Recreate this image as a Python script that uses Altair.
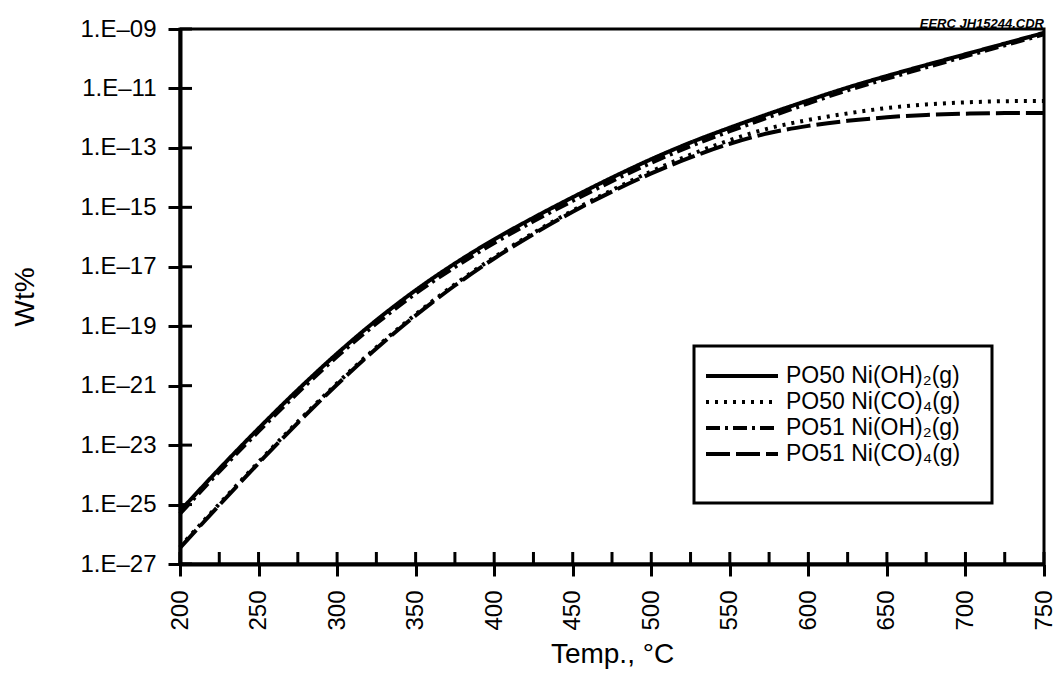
import altair as alt
import pandas as pd

# ---- data (exponents of 10) ----
temps = [200, 225, 250, 275, 300, 325, 350, 375, 400, 425, 450, 475,
         500, 525, 550, 575, 600, 625, 650, 675, 700, 725, 750]

series_names = ["PO50 Ni(OH)₂(g)", "PO50 Ni(CO)₄(g)",
                "PO51 Ni(OH)₂(g)", "PO51 Ni(CO)₄(g)"]

po50_oh_exp = [-25.22, -23.80, -22.44, -21.14, -19.92, -18.80, -17.79, -16.89,
               -16.08, -15.35, -14.66, -14.00, -13.38, -12.82, -12.32, -11.85,
               -11.40, -10.97, -10.58, -10.21, -9.85, -9.49, -9.13]
po50_co_exp = [-26.42, -24.98, -23.57, -22.21, -20.92, -19.71, -18.60, -17.59,
               -16.68, -15.86, -15.11, -14.42, -13.79, -13.23, -12.74, -12.34,
               -12.06, -11.84, -11.66, -11.54, -11.47, -11.43, -11.42]
po51_oh_exp = [-25.31, -23.89, -22.54, -21.24, -20.02, -18.91, -17.90, -17.01,
               -16.20, -15.47, -14.78, -14.12, -13.50, -12.94, -12.44, -11.96,
               -11.50, -11.06, -10.67, -10.29, -9.92, -9.55, -9.18]
po51_co_exp = [-26.46, -25.02, -23.61, -22.25, -20.96, -19.75, -18.64, -17.63,
               -16.72, -15.90, -15.15, -14.47, -13.86, -13.32, -12.86, -12.50,
               -12.26, -12.09, -11.97, -11.89, -11.85, -11.83, -11.83]

x_tick_values = [200, 225, 250, 275, 300, 325, 350, 375, 400, 425, 450, 475,
                 500, 525, 550, 575, 600, 625, 650, 675, 700, 725, 750]
y_tick_exps = [-27, -25, -23, -21, -19, -17, -15, -13, -11, -9]

dash_styles = [[1, 0], [3, 6], [14, 5, 3, 5], [24, 6]]

# ---- tables ----
rows = []
for name, arr in zip(series_names, [po50_oh_exp, po50_co_exp, po51_oh_exp, po51_co_exp]):
    for t, e in zip(temps, arr):
        rows.append({"temp": t, "wt": 10.0 ** e, "series": name})
df = pd.DataFrame(rows)

xt_df = pd.DataFrame({"temp": x_tick_values})
yt_df = pd.DataFrame({"wt": [10.0 ** e for e in y_tick_exps]})
legend_df = pd.DataFrame({"series": series_names})
box_df = pd.DataFrame({"k": [0]})

W, H = 864, 535
FONT = "Liberation Sans"

x_scale = alt.Scale(domain=[200, 750], nice=False, zero=False)
y_scale = alt.Scale(type="log", domain=[1e-27, 1e-9], nice=False)
dash_scale = alt.Scale(domain=series_names, range=dash_styles)
legend_y = alt.Scale(type="point", domain=series_names, range=[347, 425], padding=0)

x_axis = alt.Axis(
    values=x_tick_values,
    labelExpr="datum.value % 50 == 0 ? datum.label : ''",
    labelAngle=270,
    labelPadding=14,
    title="Temp., °C",
    titlePadding=10,
    grid=False,
)
y_axis = alt.Axis(
    values=[10.0 ** e for e in y_tick_exps],
    labelExpr="'1.E–' + format(round(-log(datum.value) / LN10), '02d')",
    labelPadding=12,
    title="Wt%",
    titlePadding=40,
    grid=False,
)

lines = alt.Chart(df).mark_line(color="black", strokeWidth=4, interpolate="monotone").encode(
    x=alt.X("temp:Q", scale=x_scale, axis=x_axis),
    y=alt.Y("wt:Q", scale=y_scale, axis=y_axis),
    strokeDash=alt.StrokeDash("series:N", scale=dash_scale, legend=None),
)

x_inner_ticks = alt.Chart(xt_df).mark_rule(color="black", strokeWidth=3).encode(
    x=alt.X("temp:Q", scale=x_scale),
    y=alt.value(H),
    y2=alt.value(H - 12),
)
y_inner_ticks = alt.Chart(yt_df).mark_rule(color="black", strokeWidth=3).encode(
    y=alt.Y("wt:Q", scale=y_scale, axis=None),
    x=alt.value(0),
    x2=alt.value(12),
)

# ---- legend (key box) ----
legend_box = alt.Chart(box_df).mark_rect(fill="white", stroke="black", strokeWidth=3).encode(
    x=alt.value(514), x2=alt.value(812), y=alt.value(317), y2=alt.value(474)
)
legend_lines = alt.Chart(legend_df).mark_rule(color="black", strokeWidth=4).encode(
    x=alt.value(526),
    x2=alt.value(598),
    y=alt.Y("series:N", scale=legend_y, axis=None),
    strokeDash=alt.StrokeDash("series:N", scale=dash_scale, legend=None),
)
legend_text = alt.Chart(legend_df).mark_text(
    align="left", baseline="middle", font=FONT, fontSize=23, color="black"
).encode(
    x=alt.value(606),
    y=alt.Y("series:N", scale=legend_y, axis=None),
    text="series:N",
)

chart = (
    alt.layer(lines, x_inner_ticks, y_inner_ticks, legend_box, legend_lines, legend_text)
    .resolve_scale(y="independent")
    .properties(
        width=W,
        height=H,
        autosize=alt.AutoSizeParams(type="none"),
        padding={"left": 172, "top": 21, "right": 12, "bottom": 113},
        title=alt.TitleParams(
            "EERC JH15244.CDR",
            anchor="end",
            frame="group",
            fontSize=13,
            fontStyle="italic",
            fontWeight="bold",
            font=FONT,
            color="black",
            offset=0,
            dy=14,
        ),
    )
    .configure(font=FONT, background="white")
    .configure_view(stroke="black", strokeWidth=3)
    .configure_axis(
        domainColor="black",
        domainWidth=4,
        tickColor="black",
        tickWidth=3,
        tickSize=12,
        labelFont=FONT,
        labelFontSize=24,
        labelColor="black",
        titleFont=FONT,
        titleFontSize=28,
        titleFontWeight="normal",
        titleColor="black",
    )
)

chart.save("out.html", embed_options={"renderer": "svg", "actions": False})
